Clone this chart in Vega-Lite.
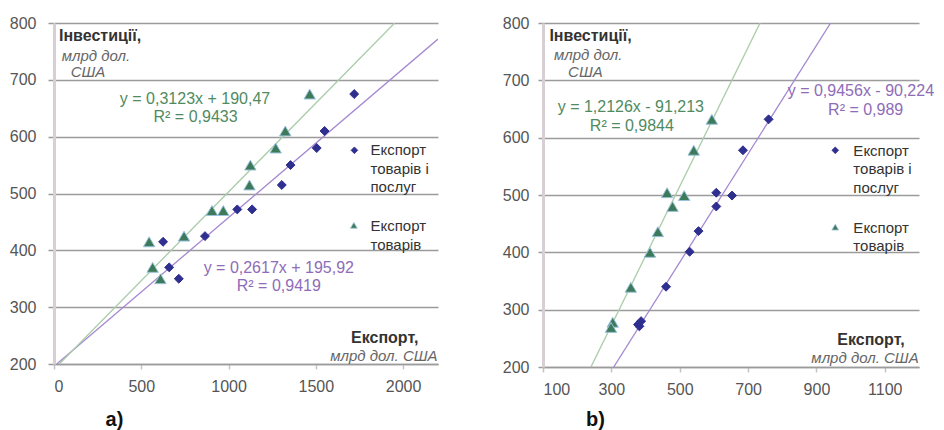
{
  "$schema": "https://vega.github.io/schema/vega-lite/v6.json",
  "padding": {"left": 2, "top": 15, "right": 5, "bottom": 5},
  "config": {
    "font": "Liberation Sans",
    "view": {"stroke": null},
    "axis": {"labelFont": "Liberation Sans", "titleFont": "Liberation Sans"}
  },
  "datasets": {
    "ptsA": [
      {"series": "Експорт товарів і послуг", "export": 1720, "invest": 675},
      {"series": "Експорт товарів і послуг", "export": 1550, "invest": 610},
      {"series": "Експорт товарів і послуг", "export": 1505, "invest": 580},
      {"series": "Експорт товарів і послуг", "export": 1355, "invest": 550},
      {"series": "Експорт товарів і послуг", "export": 1305, "invest": 515},
      {"series": "Експорт товарів і послуг", "export": 1135, "invest": 472},
      {"series": "Експорт товарів і послуг", "export": 1050, "invest": 472},
      {"series": "Експорт товарів і послуг", "export": 865, "invest": 425},
      {"series": "Експорт товарів і послуг", "export": 625, "invest": 415},
      {"series": "Експорт товарів і послуг", "export": 660, "invest": 370},
      {"series": "Експорт товарів і послуг", "export": 715, "invest": 350},
      {"series": "Експорт товарів", "export": 1465, "invest": 675},
      {"series": "Експорт товарів", "export": 1325, "invest": 610},
      {"series": "Експорт товарів", "export": 1270, "invest": 580},
      {"series": "Експорт товарів", "export": 1125, "invest": 550},
      {"series": "Експорт товарів", "export": 1120, "invest": 515},
      {"series": "Експорт товарів", "export": 970, "invest": 470},
      {"series": "Експорт товарів", "export": 905, "invest": 470},
      {"series": "Експорт товарів", "export": 745, "invest": 425},
      {"series": "Експорт товарів", "export": 545, "invest": 415},
      {"series": "Експорт товарів", "export": 565, "invest": 370},
      {"series": "Експорт товарів", "export": 610, "invest": 350}
    ],
    "trendA": [
      {"series": "Експорт товарів і послуг", "export": 15.6, "invest": 200},
      {"series": "Експорт товарів і послуг", "export": 2200, "invest": 771.7},
      {"series": "Експорт товарів", "export": 30.5, "invest": 200},
      {"series": "Експорт товарів", "export": 1951.8, "invest": 800}
    ],
    "ptsB": [
      {"series": "Експорт товарів і послуг", "export": 760, "invest": 632},
      {"series": "Експорт товарів і послуг", "export": 685, "invest": 578},
      {"series": "Експорт товарів і послуг", "export": 607, "invest": 504},
      {"series": "Експорт товарів і послуг", "export": 653, "invest": 499},
      {"series": "Експорт товарів і послуг", "export": 607, "invest": 480},
      {"series": "Експорт товарів і послуг", "export": 555, "invest": 437},
      {"series": "Експорт товарів і послуг", "export": 529, "invest": 401},
      {"series": "Експорт товарів і послуг", "export": 460, "invest": 340},
      {"series": "Експорт товарів і послуг", "export": 387, "invest": 280},
      {"series": "Експорт товарів і послуг", "export": 378, "invest": 274},
      {"series": "Експорт товарів і послуг", "export": 382, "invest": 271},
      {"series": "Експорт товарів", "export": 594, "invest": 632},
      {"series": "Експорт товарів", "export": 541, "invest": 578},
      {"series": "Експорт товарів", "export": 463, "invest": 504},
      {"series": "Експорт товарів", "export": 513, "invest": 499},
      {"series": "Експорт товарів", "export": 479, "invest": 480},
      {"series": "Експорт товарів", "export": 436, "invest": 436},
      {"series": "Експорт товарів", "export": 413, "invest": 400},
      {"series": "Експорт товарів", "export": 357, "invest": 339},
      {"series": "Експорт товарів", "export": 304, "invest": 278},
      {"series": "Експорт товарів", "export": 299, "invest": 269}
    ],
    "trendB": [
      {"series": "Експорт товарів і послуг", "export": 306.9, "invest": 200},
      {"series": "Експорт товарів і послуг", "export": 941.4, "invest": 800},
      {"series": "Експорт товарів", "export": 240.2, "invest": 200},
      {"series": "Експорт товарів", "export": 735, "invest": 800}
    ],
    "legA": [
      {"series": "Експорт товарів і послуг", "export": 1721, "invest": 576, "text": "Експорт\nтоварів і\nпослуг", "tx": 1813, "ty": 588},
      {"series": "Експорт товарів", "export": 1718, "invest": 444, "text": "Експорт\nтоварів", "tx": 1813, "ty": 455}
    ],
    "legB": [
      {"series": "Експорт товарів і послуг", "export": 955, "invest": 578, "text": "Експорт\nтоварів і\nпослуг", "tx": 1008, "ty": 589},
      {"series": "Експорт товарів", "export": 955, "invest": 444, "text": "Експорт\nтоварів", "tx": 1008, "ty": 455}
    ],
    "eqA": [
      {"series": "Експорт товарів і послуг", "text": "y = 0,2617x + 195,92", "export": 1288, "invest": 369},
      {"series": "Експорт товарів і послуг", "text": "R² = 0,9419", "export": 1288, "invest": 337},
      {"series": "Експорт товарів", "text": "y = 0,3123x + 190,47", "export": 808, "invest": 667},
      {"series": "Експорт товарів", "text": "R² = 0,9433", "export": 811, "invest": 634}
    ],
    "eqB": [
      {"series": "Експорт товарів і послуг", "text": "y = 0,9456x - 90,224", "export": 1030, "invest": 682},
      {"series": "Експорт товарів і послуг", "text": "R² = 0,989", "export": 1044, "invest": 647.5},
      {"series": "Експорт товарів", "text": "y = 1,2126x - 91,213", "export": 357, "invest": 653},
      {"series": "Експорт товарів", "text": "R² = 0,9844", "export": 360, "invest": 620}
    ],
    "boldA": [
      {"text": "Інвестиції,", "export": 264, "invest": 777},
      {"text": "Експорт,", "export": 1895, "invest": 245.5}
    ],
    "italA": [
      {"text": "млрд дол.", "export": 240, "invest": 742},
      {"text": "США", "export": 195, "invest": 714},
      {"text": "млрд дол. США", "export": 1890, "invest": 214.5}
    ],
    "boldB": [
      {"text": "Інвестиції,", "export": 239, "invest": 777},
      {"text": "Експорт,", "export": 1059.6, "invest": 247}
    ],
    "italB": [
      {"text": "млрд дол.", "export": 232, "invest": 744},
      {"text": "США", "export": 224, "invest": 715},
      {"text": "млрд дол. США", "export": 1042, "invest": 216}
    ]
  },
  "spacing": 57,
  "hconcat": [
    {
      "width": 384,
      "height": 341,
      "encoding": {
        "x": {"field": "export", "type": "quantitative",
          "scale": {"domain": [0, 2200], "nice": false, "zero": false},
          "axis": {"values": [0, 500, 1000, 1500, 2000], "format": "d", "grid": false, "title": "a)",
            "titleFontSize": 20, "titleFontWeight": "bold", "titleColor": "#111",
            "titleX": 60, "titleY": 45, "titleAlign": "center", "titleBaseline": "top",
            "labelFontSize": 16, "labelColor": "#555", "tickSize": 5, "labelPadding": 9,
            "domainColor": "#9b9b9b", "domainWidth": 1.5, "tickColor": "#c8c0c8", "tickWidth": 1.5}},
        "y": {"field": "invest", "type": "quantitative",
          "scale": {"domain": [200, 800], "nice": false, "zero": false},
          "axis": {"values": [200, 300, 400, 500, 600, 700, 800], "grid": true, "gridColor": "#9b9b9b", "gridWidth": 1.5,
            "title": null, "labelFontSize": 16, "labelColor": "#555", "tickSize": 6, "labelPadding": 12,
            "tickColor": "#9b9b9b", "tickWidth": 1.5, "domainColor": "#d6cfd6", "domainWidth": 3,
            "minExtent": 52, "maxExtent": 52}}
      },
      "layer": [
        {"data": {"name": "trendA"}, "mark": {"type": "line", "strokeWidth": 1.3, "clip": true},
          "encoding": {"color": {"field": "series", "type": "nominal", "legend": null,
            "scale": {"domain": ["Експорт товарів і послуг", "Експорт товарів"], "range": ["#a588d0", "#a9cca9"]}}}},
        {"data": {"name": "ptsA"}, "mark": {"type": "point", "filled": true, "opacity": 1, "strokeWidth": 1},
          "encoding": {
            "shape": {"field": "series", "type": "nominal", "legend": null,
              "scale": {"domain": ["Експорт товарів і послуг", "Експорт товарів"], "range": ["diamond", "triangle-up"]}},
            "fill": {"field": "series", "type": "nominal", "legend": null,
              "scale": {"domain": ["Експорт товарів і послуг", "Експорт товарів"], "range": ["#2f2f8f", "#3d7a5a"]}},
            "stroke": {"field": "series", "type": "nominal", "legend": null,
              "scale": {"domain": ["Експорт товарів і послуг", "Експорт товарів"], "range": ["#2f2f8f", "#9cc3dd"]}},
            "size": {"field": "series", "type": "nominal", "legend": null,
              "scale": {"domain": ["Експорт товарів і послуг", "Експорт товарів"], "range": [80, 130]}}}},
        {"data": {"name": "legA"}, "mark": {"type": "point", "filled": true, "opacity": 1, "strokeWidth": 0.8},
          "encoding": {
            "shape": {"field": "series", "type": "nominal", "legend": null},
            "fill": {"field": "series", "type": "nominal", "legend": null},
            "stroke": {"field": "series", "type": "nominal", "legend": null},
            "size": {"value": 45}}},
        {"data": {"name": "legA"}, "mark": {"type": "text", "align": "left", "baseline": "top", "lineBreak": "\n", "lineHeight": 18.5, "fontSize": 15, "color": "#333"},
          "encoding": {"x": {"field": "tx", "type": "quantitative"}, "y": {"field": "ty", "type": "quantitative"}, "text": {"field": "text"}}},
        {"data": {"name": "eqA"}, "mark": {"type": "text", "align": "center", "baseline": "middle", "fontSize": 16},
          "encoding": {"text": {"field": "text"},
            "color": {"field": "series", "type": "nominal", "legend": null,
              "scale": {"domain": ["Експорт товарів і послуг", "Експорт товарів"], "range": ["#8e6cb8", "#4f8b5f"]}}}},
        {"data": {"name": "boldA"}, "mark": {"type": "text", "align": "center", "baseline": "middle", "fontSize": 16, "fontWeight": "bold", "color": "#333"},
          "encoding": {"text": {"field": "text"}}},
        {"data": {"name": "italA"}, "mark": {"type": "text", "align": "center", "baseline": "middle", "fontSize": 15, "fontStyle": "italic", "color": "#666"},
          "encoding": {"text": {"field": "text"}}}
      ],
      "resolve": {"scale": {"color": "independent"}}
    },
    {
      "width": 376,
      "height": 344,
      "encoding": {
        "x": {"field": "export", "type": "quantitative",
          "scale": {"domain": [100, 1200], "nice": false, "zero": false},
          "axis": {"values": [100, 300, 500, 700, 900, 1100], "format": "d", "grid": false, "title": "b)",
            "titleFontSize": 20, "titleFontWeight": "bold", "titleColor": "#111",
            "titleX": 52, "titleY": 42, "titleAlign": "center", "titleBaseline": "top",
            "labelFontSize": 16, "labelColor": "#555", "tickSize": 5, "labelPadding": 9,
            "domainColor": "#9b9b9b", "domainWidth": 1.5, "tickColor": "#c8c0c8", "tickWidth": 1.5}},
        "y": {"field": "invest", "type": "quantitative",
          "scale": {"domain": [200, 800], "nice": false, "zero": false},
          "axis": {"values": [200, 300, 400, 500, 600, 700, 800], "grid": true, "gridColor": "#9b9b9b", "gridWidth": 1.5,
            "title": null, "labelFontSize": 16, "labelColor": "#555", "tickSize": 5, "labelPadding": 9,
            "tickColor": "#9b9b9b", "tickWidth": 1.5, "domainColor": "#d6cfd6", "domainWidth": 3,
            "minExtent": 48, "maxExtent": 48}}
      },
      "layer": [
        {"data": {"name": "trendB"}, "mark": {"type": "line", "strokeWidth": 1.3, "clip": true},
          "encoding": {"color": {"field": "series", "type": "nominal", "legend": null,
            "scale": {"domain": ["Експорт товарів і послуг", "Експорт товарів"], "range": ["#a588d0", "#a9cca9"]}}}},
        {"data": {"name": "ptsB"}, "mark": {"type": "point", "filled": true, "opacity": 1, "strokeWidth": 1},
          "encoding": {
            "shape": {"field": "series", "type": "nominal", "legend": null,
              "scale": {"domain": ["Експорт товарів і послуг", "Експорт товарів"], "range": ["diamond", "triangle-up"]}},
            "fill": {"field": "series", "type": "nominal", "legend": null,
              "scale": {"domain": ["Експорт товарів і послуг", "Експорт товарів"], "range": ["#2f2f8f", "#3d7a5a"]}},
            "stroke": {"field": "series", "type": "nominal", "legend": null,
              "scale": {"domain": ["Експорт товарів і послуг", "Експорт товарів"], "range": ["#2f2f8f", "#9cc3dd"]}},
            "size": {"field": "series", "type": "nominal", "legend": null,
              "scale": {"domain": ["Експорт товарів і послуг", "Експорт товарів"], "range": [80, 130]}}}},
        {"data": {"name": "legB"}, "mark": {"type": "point", "filled": true, "opacity": 1, "strokeWidth": 0.8},
          "encoding": {
            "shape": {"field": "series", "type": "nominal", "legend": null},
            "fill": {"field": "series", "type": "nominal", "legend": null},
            "stroke": {"field": "series", "type": "nominal", "legend": null},
            "size": {"value": 45}}},
        {"data": {"name": "legB"}, "mark": {"type": "text", "align": "left", "baseline": "top", "lineBreak": "\n", "lineHeight": 18.5, "fontSize": 15, "color": "#333"},
          "encoding": {"x": {"field": "tx", "type": "quantitative"}, "y": {"field": "ty", "type": "quantitative"}, "text": {"field": "text"}}},
        {"data": {"name": "eqB"}, "mark": {"type": "text", "align": "center", "baseline": "middle", "fontSize": 16},
          "encoding": {"text": {"field": "text"},
            "color": {"field": "series", "type": "nominal", "legend": null,
              "scale": {"domain": ["Експорт товарів і послуг", "Експорт товарів"], "range": ["#8e6cb8", "#4f8b5f"]}}}},
        {"data": {"name": "boldB"}, "mark": {"type": "text", "align": "center", "baseline": "middle", "fontSize": 16, "fontWeight": "bold", "color": "#333"},
          "encoding": {"text": {"field": "text"}}},
        {"data": {"name": "italB"}, "mark": {"type": "text", "align": "center", "baseline": "middle", "fontSize": 15, "fontStyle": "italic", "color": "#666"},
          "encoding": {"text": {"field": "text"}}}
      ],
      "resolve": {"scale": {"color": "independent"}}
    }
  ]
}
